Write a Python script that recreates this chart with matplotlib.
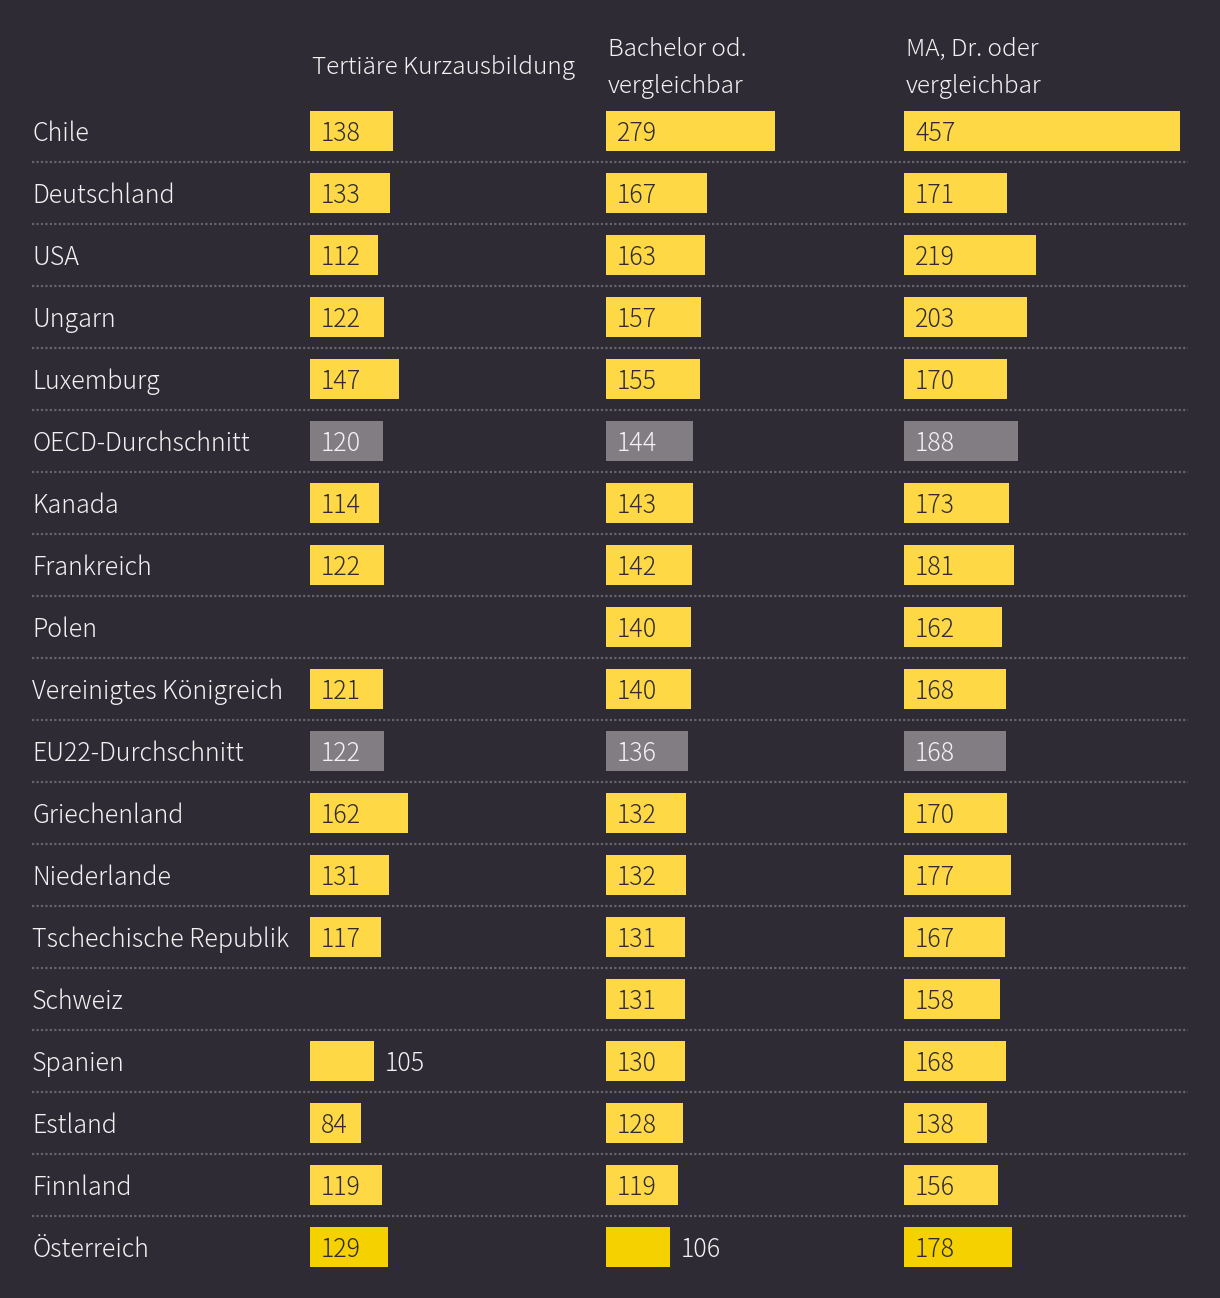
import numpy as np
import matplotlib
matplotlib.use("Agg")
import matplotlib.pyplot as plt

# data
countries = ["Chile", "Deutschland", "USA", "Ungarn", "Luxemburg", "OECD-Durchschnitt",
             "Kanada", "Frankreich", "Polen", "Vereinigtes Königreich", "EU22-Durchschnitt",
             "Griechenland", "Niederlande", "Tschechische Republik", "Schweiz", "Spanien",
             "Estland", "Finnland", "Österreich"]
kurz = [138, 133, 112, 122, 147, 120, 114, 122, np.nan, 121, 122, 162, 131, 117, np.nan, 105, 84, 119, 129]
bachelor = [279, 167, 163, 157, 155, 144, 143, 142, 140, 140, 136, 132, 132, 131, 131, 130, 128, 119, 106]
master = [457, 171, 219, 203, 170, 188, 173, 181, 162, 168, 168, 170, 177, 167, 158, 168, 138, 156, 178]
headers = ["Tertiäre Kurzausbildung", "Bachelor od.\nvergleichbar", "MA, Dr. oder\nvergleichbar"]
averages = ["OECD-Durchschnitt", "EU22-Durchschnitt"]
highlight = "Österreich"
# labels drawn to the right of the bar instead of inside
outside = {(15, 0), (18, 1)}

BG = "#2f2b34"
YELLOW = "#ffd945"
AUT = "#f5d100"
GREY = "#827d83"
DARK = "#2f2b34"
WHITE = "#f2f2f2"
FONT = ["Noto Sans CJK JP", "DejaVu Sans"]
WEIGHT = "light"
FS = 18

W, H = 1220, 1298
fig = plt.figure(figsize=(W / 100, H / 100), dpi=100, facecolor=BG)
plt.rcParams["font.family"] = FONT

n = len(countries)
rows = np.arange(n)
top_px, row_px = 100, 62
bottom_px = top_px + n * row_px
ax_b = 1 - bottom_px / H
ax_h = (bottom_px - top_px) / H
dy = 2.5 / row_px  # text sits slightly below bar centre

# background axes for labels and separators
bg = fig.add_axes([0, ax_b, 1, ax_h])
bg.set_xlim(0, W)
bg.set_ylim(n - 0.5, -0.5)
bg.axis("off")
bg.hlines(rows[:-1] + 0.5, 32, 1188, colors="#67636b", linewidth=1.6, linestyles=(0, (1, 1)))
for i, c in enumerate(countries):
    bg.text(32, i + dy, c, color=WHITE, fontsize=FS, fontweight=WEIGHT, va="center", ha="left")

px_per_unit = 0.605
xmax = 480
lefts = [310, 606, 904]
for col, (vals, left, head) in enumerate(zip([kurz, bachelor, master], lefts, headers)):
    ax = fig.add_axes([left / W, ax_b, xmax * px_per_unit / W, ax_h])
    ax.set_xlim(0, xmax)
    ax.set_ylim(n - 0.5, -0.5)
    ax.axis("off")
    colors = [GREY if c in averages else (AUT if c == highlight else YELLOW) for c in countries]
    v = np.array(vals, dtype=float)
    ax.barh(rows, v, height=40 / 62, color=colors, left=0)
    for i, val in enumerate(v):
        if np.isnan(val):
            continue
        txt = f"{int(val)}"
        if (i, col) in outside:
            ax.text(val + 11 / px_per_unit, i + dy, txt, color=WHITE, fontsize=FS,
                    fontweight=WEIGHT, va="center", ha="left")
        else:
            tc = WHITE if countries[i] in averages else DARK
            ax.text(11 / px_per_unit, i + dy, txt, color=tc, fontsize=FS,
                    fontweight=WEIGHT, va="center", ha="left")
    fig.text((left + 2) / W, 1 - 68 / H, head, color=WHITE, fontsize=17.5, fontweight=WEIGHT,
             va="center", ha="left", linespacing=1.65)

fig.savefig("out.png", dpi=100, facecolor=BG)
